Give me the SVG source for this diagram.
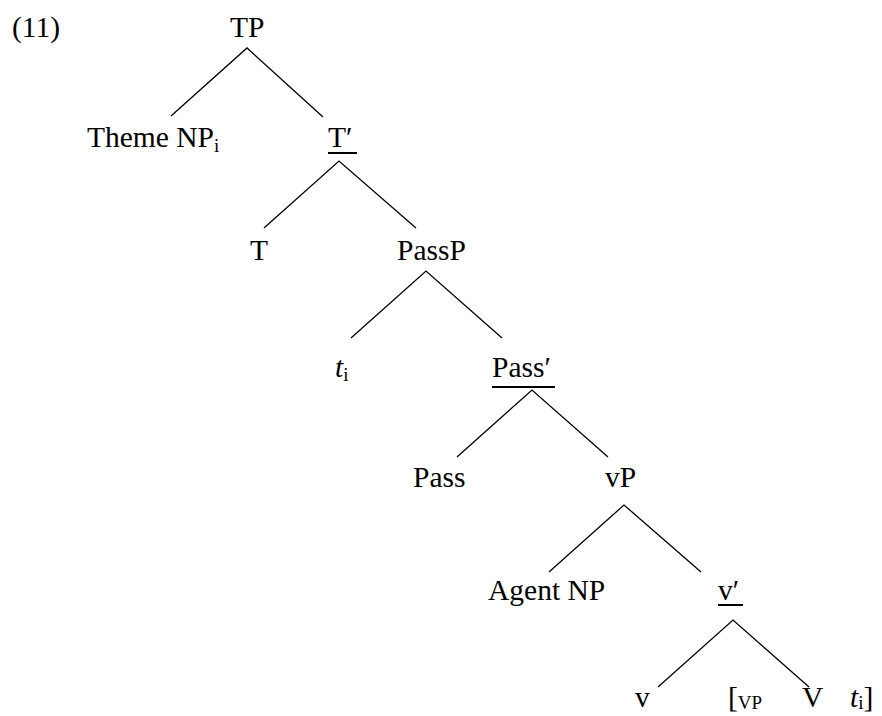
<svg xmlns="http://www.w3.org/2000/svg" width="882" height="716" viewBox="0 0 882 716">
  <style>
    text { font-family: "Liberation Serif", "Times New Roman", serif; font-size: 29.5px; fill: #000; }
    .sub { font-size: 19px; }
    .it { font-style: italic; }
    .branch { stroke: #000; stroke-width: 1.3; fill: none; }
    .ul { stroke: #000; stroke-width: 2; }
  </style>
  <rect width="882" height="716" fill="#fff"/>

  <text id="ex-num" x="12" y="37">(11)</text>

  <g id="connectors">
    <path class="branch" d="M171,116 L247,48 L323,117"/>
    <path class="branch" d="M264,228 L339,161 L416,228"/>
    <path class="branch" d="M351,338 L426,271 L502,338"/>
    <path class="branch" d="M457,457 L532,390 L608,457"/>
    <path class="branch" d="M549,572 L624,505 L701,572"/>
    <path class="branch" d="M658,687 L733,620 L809,687"/>
  </g>

  <g id="TP"><text x="230" y="37">TP</text></g>
  <g id="ThemeNP"><text x="87" y="147">Theme NP<tspan class="sub" dy="5">i</tspan></text></g>
  <g id="Tbar"><text x="328" y="147">T′</text><line class="ul" x1="328" y1="153" x2="357" y2="153"/></g>
  <g id="T"><text x="250" y="260">T</text></g>
  <g id="PassP"><text x="397" y="260">PassP</text></g>
  <g id="trace1"><text x="335" y="377"><tspan class="it">t</tspan><tspan class="sub" dy="4">i</tspan></text></g>
  <g id="Passbar"><text x="492" y="377">Pass′</text><line class="ul" x1="492" y1="387" x2="555" y2="387"/></g>
  <g id="Pass"><text x="413" y="487">Pass</text></g>
  <g id="vP"><text x="605" y="487">vP</text></g>
  <g id="AgentNP"><text x="488" y="600">Agent NP</text></g>
  <g id="vbar"><text x="718" y="600">v′</text><line class="ul" x1="718" y1="605" x2="743" y2="605"/></g>
  <g id="v"><text x="635" y="707">v</text></g>
  <g id="VP"><text x="728" y="707">[<tspan class="sub" dy="2">VP</tspan></text><text x="802" y="707">V</text><text x="850" y="707"><tspan class="it">t</tspan><tspan class="sub" dy="2">i</tspan><tspan dy="-2">]</tspan></text></g>
</svg>
